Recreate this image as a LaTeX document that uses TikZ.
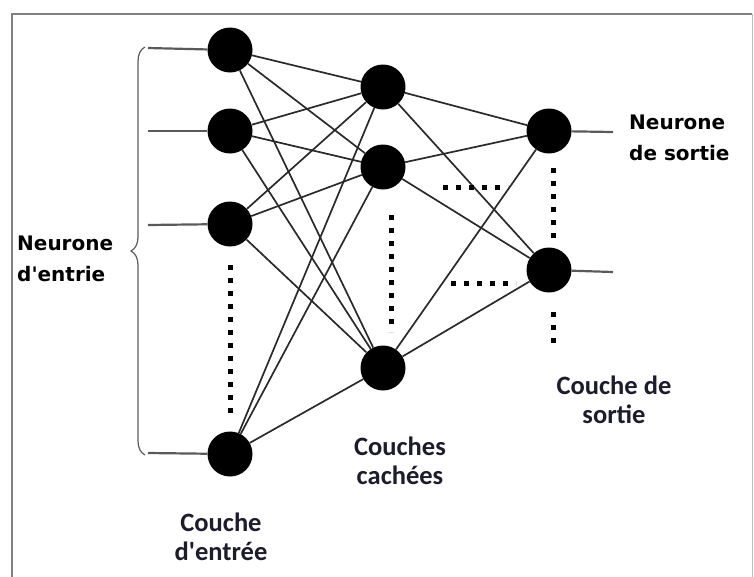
\documentclass[tikz,border=0pt]{standalone}
\usepackage{fontspec}
\usetikzlibrary{decorations.pathreplacing}
\newfontfamily\neufont{DejaVu Sans}
\newfontfamily\coufont{Carlito}
\definecolor{edgec}{HTML}{2A2A2A}
\definecolor{stubc}{HTML}{5A5A5A}
\definecolor{framec}{HTML}{808080}
\definecolor{txtc}{HTML}{1C1C2C}
\tikzset{
  neuron/.style={circle, fill=black, draw=none, minimum size=45pt, inner sep=0pt},
  wire/.style={draw=edgec, line width=1.7pt},
  stub/.style={draw=stubc, line width=2.2pt},
  dotline/.style={draw=black, line width=5pt, dash pattern=on 5pt off 8pt},
  neulabel/.style={font=\neufont\bfseries\fontsize{20}{31}\selectfont, align=left, inner sep=0pt, text=black},
  coulabel/.style={font=\coufont\bfseries\fontsize{26.5}{29}\selectfont, align=center, inner sep=0pt, text=txtc}
}
\begin{document}
\begin{tikzpicture}[x=1pt,y=-1pt]
\useasboundingbox (0,0) rectangle (754,576);
% frame
\draw[framec, line width=2.8pt] (12,580) -- (12,14) -- (752,14);
\draw[framec!50, line width=1pt] (752,14) -- (752,580);

% neurons
\node[neuron] (i1) at (230,50) {};
\node[neuron] (i2) at (230,131) {};
\node[neuron] (i3) at (230,224) {};
\node[neuron] (i4) at (230,454) {};
\node[neuron] (h1) at (383,87) {};
\node[neuron] (h2) at (383,167) {};
\node[neuron] (h3) at (383,368) {};
\node[neuron] (o1) at (549,131) {};
\node[neuron] (o2) at (549,270) {};

% stubs
\coordinate (s1) at (148,48);
\coordinate (s2) at (148,131);
\coordinate (s3) at (148,225);
\coordinate (s4) at (148,453);
\coordinate (t1) at (613,132);
\coordinate (t2) at (613,272);
\foreach \k in {1,2,3,4} \draw[stub] (s\k) -- (i\k);
\draw[stub] (o1) -- (t1);
\draw[stub] (o2) -- (t2);

% connections
\foreach \a in {i1,i2,i3,i4}
  \foreach \b in {h1,h2,h3}
    \draw[wire] (\a) -- (\b);
\foreach \a in {h1,h2,h3}
  \foreach \b in {o1,o2}
    \draw[wire] (\a) -- (\b);

% dotted lines
\draw[dotline] (230,265) -- (230,418);
\draw[dotline] (391,215) -- (391,332);
\draw[dotline] (553,168) -- (553,240);
\draw[dotline] (553,312) -- (553,346);
\draw[dotline] (443,187) -- (508,187);
\draw[dotline] (451,283) -- (516,283);

% brace
\draw[stubc, line width=1.2pt, decorate, decoration={brace, amplitude=14pt}] (145,455) -- (145,47);

% labels
\node[neulabel, anchor=west] (lin) at (17,259) {Neurone\\d'entrie};
\node[neulabel, anchor=west] (lout) at (629,138) {Neurone\\de sortie};
\node[coulabel] (cin) at (221,537) {Couche\\d'entrée};
\node[coulabel] (chid) at (400,461) {Couches\\cachées};
\node[coulabel] (cout) at (614,400) {Couche de\\sortie};
\end{tikzpicture}
\end{document}
